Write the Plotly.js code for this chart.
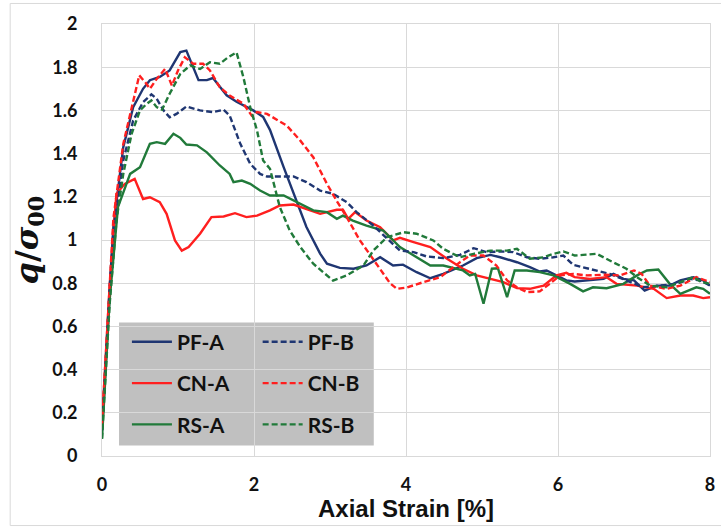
<!DOCTYPE html>
<html>
<head>
<meta charset="utf-8">
<script src="https://cdn.plot.ly/plotly-3.0.1.min.js"></script>
<style>html,body{margin:0;padding:0;background:#fff;}#chart{width:721px;height:527px;}</style>
</head>
<body>
<div id="chart"></div>
<script>
// ---- data ----
const seriesNames = ["PF-A", "PF-B", "CN-A", "CN-B", "RS-A", "RS-B"];

const pfA_x = [0,0.05,0.1,0.15,0.28,0.41,0.54,0.63,0.76,0.89,1.03,1.11,1.27,1.38,1.46,1.64,1.77,1.99,2.12,2.21,2.39,2.52,2.69,2.87,2.96,3.13,3.31,3.48,3.66,3.83,3.96,4.14,4.32,4.49,4.75,4.93,5.11,5.24,5.46,5.63,5.76,5.85,5.98,6.11,6.22,6.42,6.60,6.73,6.86,7.0,7.14,7.30,7.47,7.61,7.78,7.91,8.0];
const pfA_y = [0.12,0.45,0.78,1.06,1.43,1.615,1.70,1.74,1.755,1.785,1.87,1.877,1.74,1.74,1.75,1.67,1.64,1.60,1.57,1.51,1.337,1.214,1.06,0.937,0.89,0.871,0.867,0.882,0.92,0.882,0.886,0.851,0.823,0.843,0.882,0.916,0.931,0.92,0.897,0.874,0.854,0.859,0.836,0.813,0.808,0.813,0.82,0.843,0.82,0.813,0.766,0.789,0.789,0.813,0.828,0.813,0.789];

const pfB_x = [0,0.05,0.1,0.15,0.28,0.41,0.54,0.65,0.72,0.81,0.89,0.98,1.11,1.29,1.46,1.60,1.68,1.82,1.95,2.08,2.17,2.52,2.69,2.87,3.04,3.22,3.35,3.57,3.75,3.92,4.10,4.27,4.49,4.71,4.89,5.06,5.24,5.41,5.59,5.76,5.94,6.07,6.20,6.33,6.51,6.68,6.90,7.12,7.34,7.56,7.74,7.87,8.0];
const pfB_y = [0.12,0.45,0.78,1.04,1.368,1.553,1.638,1.674,1.654,1.60,1.568,1.584,1.618,1.60,1.592,1.603,1.576,1.445,1.353,1.306,1.294,1.294,1.268,1.229,1.214,1.175,1.129,1.067,1.006,0.951,0.944,0.924,0.916,0.931,0.962,0.944,0.947,0.944,0.92,0.913,0.92,0.928,0.885,0.874,0.859,0.843,0.813,0.781,0.789,0.797,0.82,0.813,0.789];

const cnA_x = [0,0.05,0.1,0.19,0.30,0.43,0.54,0.63,0.76,0.85,0.96,1.05,1.14,1.29,1.44,1.60,1.75,1.90,2.04,2.21,2.34,2.52,2.74,2.87,3.09,3.17,3.24,3.33,3.48,3.66,3.83,3.92,4.10,4.32,4.54,4.75,4.93,5.11,5.28,5.46,5.63,5.81,5.98,6.11,6.22,6.42,6.64,6.77,7.04,7.26,7.43,7.61,7.78,7.91,8.0];
const cnA_y = [0.15,0.45,0.78,1.214,1.26,1.283,1.19,1.198,1.175,1.121,0.998,0.951,0.967,1.029,1.106,1.109,1.124,1.106,1.113,1.137,1.160,1.164,1.137,1.121,1.14,1.14,1.098,1.129,1.09,1.059,0.998,1.01,0.99,0.967,0.913,0.867,0.836,0.82,0.805,0.777,0.774,0.789,0.836,0.848,0.828,0.82,0.828,0.797,0.789,0.774,0.731,0.743,0.743,0.731,0.735];

const cnB_x = [0,0.05,0.1,0.15,0.28,0.41,0.49,0.57,0.63,0.72,0.83,0.92,1.00,1.09,1.20,1.33,1.42,1.55,1.68,1.86,1.97,2.04,2.17,2.43,2.61,2.78,2.96,3.09,3.22,3.39,3.53,3.66,3.79,3.88,4.01,4.23,4.45,4.71,4.84,5.02,5.19,5.33,5.46,5.59,5.76,5.89,6.03,6.20,6.38,6.60,6.82,7.0,7.10,7.21,7.43,7.61,7.82,8.0];
const cnB_y = [0.15,0.45,0.8,1.1,1.445,1.646,1.762,1.73,1.70,1.746,1.792,1.715,1.785,1.846,1.816,1.816,1.785,1.707,1.669,1.631,1.576,1.592,1.584,1.53,1.46,1.383,1.26,1.18,1.106,1.0,0.93,0.87,0.80,0.774,0.78,0.805,0.828,0.897,0.928,0.928,0.882,0.813,0.781,0.759,0.762,0.797,0.836,0.843,0.836,0.839,0.836,0.859,0.843,0.789,0.774,0.789,0.828,0.805];

const rsA_x = [0,0.05,0.1,0.21,0.33,0.37,0.50,0.63,0.72,0.83,0.94,1.03,1.11,1.25,1.38,1.55,1.68,1.73,1.84,1.95,2.08,2.21,2.39,2.61,2.78,2.96,3.09,3.17,3.30,3.48,3.70,3.92,4.14,4.32,4.49,4.75,4.84,4.91,5.02,5.13,5.21,5.33,5.43,5.59,5.76,5.94,6.07,6.16,6.33,6.46,6.64,6.86,7.04,7.17,7.32,7.47,7.61,7.82,7.91,8.0];
const rsA_y = [0.08,0.4,0.72,1.152,1.275,1.306,1.337,1.445,1.453,1.445,1.492,1.473,1.442,1.438,1.406,1.345,1.306,1.268,1.275,1.26,1.229,1.206,1.206,1.168,1.137,1.129,1.098,1.113,1.09,1.067,1.044,0.967,0.92,0.882,0.882,0.859,0.836,0.843,0.705,0.867,0.869,0.735,0.859,0.859,0.851,0.836,0.813,0.797,0.762,0.781,0.777,0.797,0.836,0.859,0.863,0.797,0.751,0.781,0.774,0.751];

const rsB_x = [0,0.05,0.1,0.19,0.28,0.39,0.50,0.59,0.65,0.72,0.79,0.89,1.03,1.16,1.29,1.42,1.55,1.66,1.77,1.86,1.95,2.04,2.12,2.21,2.34,2.47,2.61,2.78,3.04,3.22,3.44,3.57,3.75,3.97,4.14,4.36,4.49,4.71,4.89,5.11,5.33,5.46,5.63,5.81,5.94,6.07,6.22,6.33,6.51,6.68,6.90,7.04,7.21,7.43,7.61,7.78,7.89,8.0];
const rsB_y = [0.08,0.38,0.7,1.09,1.306,1.492,1.60,1.631,1.646,1.615,1.603,1.677,1.769,1.808,1.792,1.823,1.816,1.846,1.869,1.754,1.615,1.507,1.368,1.33,1.152,1.044,0.967,0.89,0.812,0.836,0.882,0.951,1.013,1.036,1.029,0.998,0.959,0.92,0.936,0.951,0.951,0.959,0.913,0.92,0.936,0.947,0.928,0.931,0.936,0.905,0.867,0.828,0.789,0.781,0.805,0.828,0.805,0.797];

const xTicks = [0, 2, 4, 6, 8];
const yTicks = [0, 0.2, 0.4, 0.6, 0.8, 1, 1.2, 1.4, 1.6, 1.8, 2];

// ---- styling ----
const NAVY = "#1f3672", RED = "#ff1f1f", GREEN = "#217a3a";
const FONT = "Lato, 'Open Sans', sans-serif";
const LW = 2.4;
const DASH = "6px,3px";

function tr(name, x, y, color, dash, legend, group) {
  return {
    type: "scatter", mode: "lines", name: name, x: x, y: y,
    line: {color: color, width: LW, dash: dash},
    legend: legend, legendgroup: group, hoverinfo: "skip"
  };
}

const traces = [
  tr(seriesNames[0], pfA_x, pfA_y, NAVY, "solid", "legend", "g1"),
  tr(seriesNames[2], cnA_x, cnA_y, RED, "solid", "legend", "g2"),
  tr(seriesNames[4], rsA_x, rsA_y, GREEN, "solid", "legend", "g3"),
  tr(seriesNames[1], pfB_x, pfB_y, NAVY, DASH, "legend2", "g4"),
  tr(seriesNames[3], cnB_x, cnB_y, RED, DASH, "legend2", "g5"),
  tr(seriesNames[5], rsB_x, rsB_y, GREEN, DASH, "legend2", "g6")
];

const legendFont = {family: FONT, size: 21, color: "#111", weight: "bold"};
const legendCommon = {
  font: legendFont, bgcolor: "rgba(0,0,0,0)", borderwidth: 0,
  traceorder: "grouped", tracegroupgap: 11, yanchor: "top", xanchor: "left",
  orientation: "v", itemwidth: 40, itemclick: false, itemdoubleclick: false
};

const layout = {
  width: 721, height: 527,
  margin: {l: 102, r: 11, t: 24, b: 71, pad: 0},
  paper_bgcolor: "#fff", plot_bgcolor: "#fff",
  font: {family: FONT, color: "#111"},
  showlegend: true,
  legend: Object.assign({}, legendCommon, {x: 0.041, y: 0.311}),
  legend2: Object.assign({}, legendCommon, {x: 0.256, y: 0.311}),
  xaxis: {
    range: [0, 8], tickvals: xTicks, showgrid: true, gridcolor: "#d9d9d9", gridwidth: 1,
    zeroline: false, showline: true, linecolor: "#d9d9d9", linewidth: 1, mirror: true,
    ticks: "", ticklabelstandoff: 12,
    tickfont: {family: FONT, size: 18, color: "#111", weight: "bold"},
    title: {text: "Axial Strain [%]", font: {family: "'Liberation Sans', Arial, sans-serif", size: 24, color: "#111", weight: "bold"}, standoff: 4}
  },
  yaxis: {
    range: [0, 2], tickvals: yTicks, showgrid: true, gridcolor: "#d9d9d9", gridwidth: 1,
    zeroline: false, showline: true, linecolor: "#d9d9d9", linewidth: 1, mirror: true,
    ticks: "", ticklabelstandoff: 20,
    tickfont: {family: FONT, size: 18, color: "#111", weight: "bold"},
    title: {text: "<b><i>q</i>/<i>σ</i><sub>00</sub></b>", font: {family: "'DejaVu Serif', serif", size: 32, color: "#111"}, standoff: 4}
  },
  shapes: [
    {type: "rect", xref: "paper", yref: "paper", x0: 0.028, x1: 0.447, y0: 0.0243, y1: 0.309,
     fillcolor: "#c0c0c0", line: {width: 0}, layer: "below"},
    {type: "rect", xref: "paper", yref: "paper", x0: -0.151, x1: 1.03, y0: -0.161, y1: 1.0475,
     fillcolor: "rgba(0,0,0,0)", line: {color: "#d9d9d9", width: 1}, layer: "below"}
  ]
};

Plotly.newPlot("chart", traces, layout, {staticPlot: true, displayModeBar: false});
</script>
</body>
</html>
